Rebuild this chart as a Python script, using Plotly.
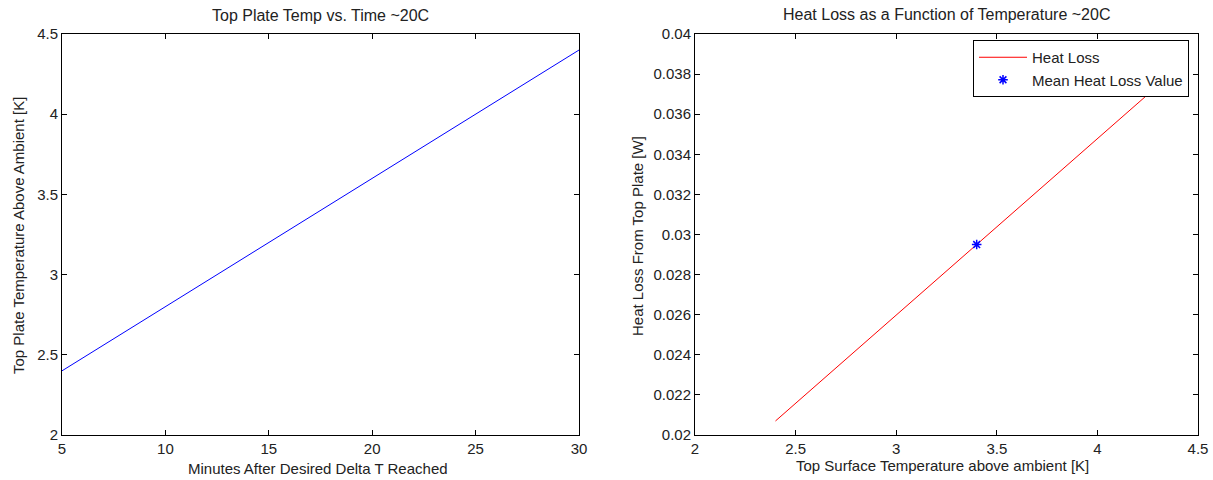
import plotly.graph_objects as go

# Left chart data
minutes = [5, 30]
top_plate_temp = [2.4, 4.4]
left_xticks = [5, 10, 15, 20, 25, 30]
left_yticks = [2, 2.5, 3, 3.5, 4, 4.5]
left_yticktext = ["2", "2.5", "3", "3.5", "4", "4.5"]

# Right chart data
surface_temp = [2.4, 3.4, 4.4]
heat_loss = [0.0207, 0.0295, 0.0383]
mean_temp = [3.4]
mean_heat_loss = [0.0295]
right_xticks = [2, 2.5, 3, 3.5, 4, 4.5]
right_xticktext = ["2", "2.5", "3", "3.5", "4", "4.5"]
right_yticks = [0.02, 0.022, 0.024, 0.026, 0.028, 0.03, 0.032, 0.034, 0.036, 0.038, 0.04]
right_yticktext = ["0.02", "0.022", "0.024", "0.026", "0.028", "0.03", "0.032", "0.034", "0.036", "0.038", "0.04"]

W, H = 1213, 480
FONT = "Liberation Sans, Arial, sans-serif"
TXT = "#222222"

fig = go.Figure()
fig.add_trace(go.Scatter(x=minutes, y=top_plate_temp, mode="lines",
                         line=dict(color="#0000ff", width=1), showlegend=False,
                         xaxis="x", yaxis="y"))
fig.add_trace(go.Scatter(x=surface_temp, y=heat_loss, mode="lines", name="Heat Loss",
                         line=dict(color="#ff0000", width=1), xaxis="x2", yaxis="y2"))
fig.add_trace(go.Scatter(x=mean_temp, y=mean_heat_loss, mode="markers", name="Mean Heat Loss Value",
                         marker=dict(symbol="asterisk-open", size=8, color="#0000ff",
                                     line=dict(color="#0000ff", width=1.5)),
                         xaxis="x2", yaxis="y2"))

def px_x(p):
    return p / W

def px_y(p):
    return 1 - p / H

axis_common = dict(showline=True, linecolor="#000000", linewidth=1, mirror="ticks",
                   ticks="inside", ticklen=5, tickcolor="#000000", showgrid=False,
                   zeroline=False, tickfont=dict(family=FONT, size=15, color=TXT))

def ann(text, x, y, angle=0, size=15):
    return dict(text=text, x=px_x(x), y=px_y(y), xref="paper", yref="paper",
                xanchor="center", yanchor="middle", showarrow=False, textangle=angle,
                font=dict(family=FONT, size=size, color=TXT))

fig.update_layout(
    width=W, height=H,
    margin=dict(l=0, r=0, t=0, b=0, autoexpand=False),
    paper_bgcolor="white", plot_bgcolor="white",
    font=dict(family=FONT, size=13, color=TXT),
    xaxis=dict(domain=[px_x(62), px_x(579)], range=[5, 30], tickvals=left_xticks,
               anchor="y", automargin=False, **axis_common),
    yaxis=dict(domain=[px_y(435), px_y(34)], range=[2, 4.5], tickvals=left_yticks,
               ticktext=left_yticktext, anchor="x", automargin=False, **axis_common),
    xaxis2=dict(domain=[px_x(695), px_x(1198)], range=[2, 4.5], tickvals=right_xticks,
                ticktext=right_xticktext, anchor="y2", automargin=False, **axis_common),
    yaxis2=dict(domain=[px_y(435), px_y(34)], range=[0.02, 0.04], tickvals=right_yticks,
                ticktext=right_yticktext, anchor="x2", automargin=False, **axis_common),
    legend=dict(x=px_x(1189), y=px_y(40), xanchor="right", yanchor="top",
                bgcolor="white", bordercolor="#000000", borderwidth=1,
                font=dict(family=FONT, size=15, color=TXT),
                tracegroupgap=0, itemwidth=48),
    annotations=[
        ann("Top Plate Temp vs. Time ~20C", 320, 15, size=16),
        ann("Heat Loss as a Function of Temperature ~20C", 946, 14, size=16),
        ann("Minutes After Desired Delta T Reached", 318, 468),
        ann("Top Surface Temperature above ambient [K]", 942, 465),
        ann("Top Plate Temperature Above Ambient [K]", 18, 236, -90),
        ann("Heat Loss From Top Plate [W]", 637, 236, -90),
    ],
)

fig.write_html("out.html", config={"displayModeBar": False},
               post_script="document.body.style.margin='0';document.body.style.padding='0';document.body.style.overflow='hidden';")
